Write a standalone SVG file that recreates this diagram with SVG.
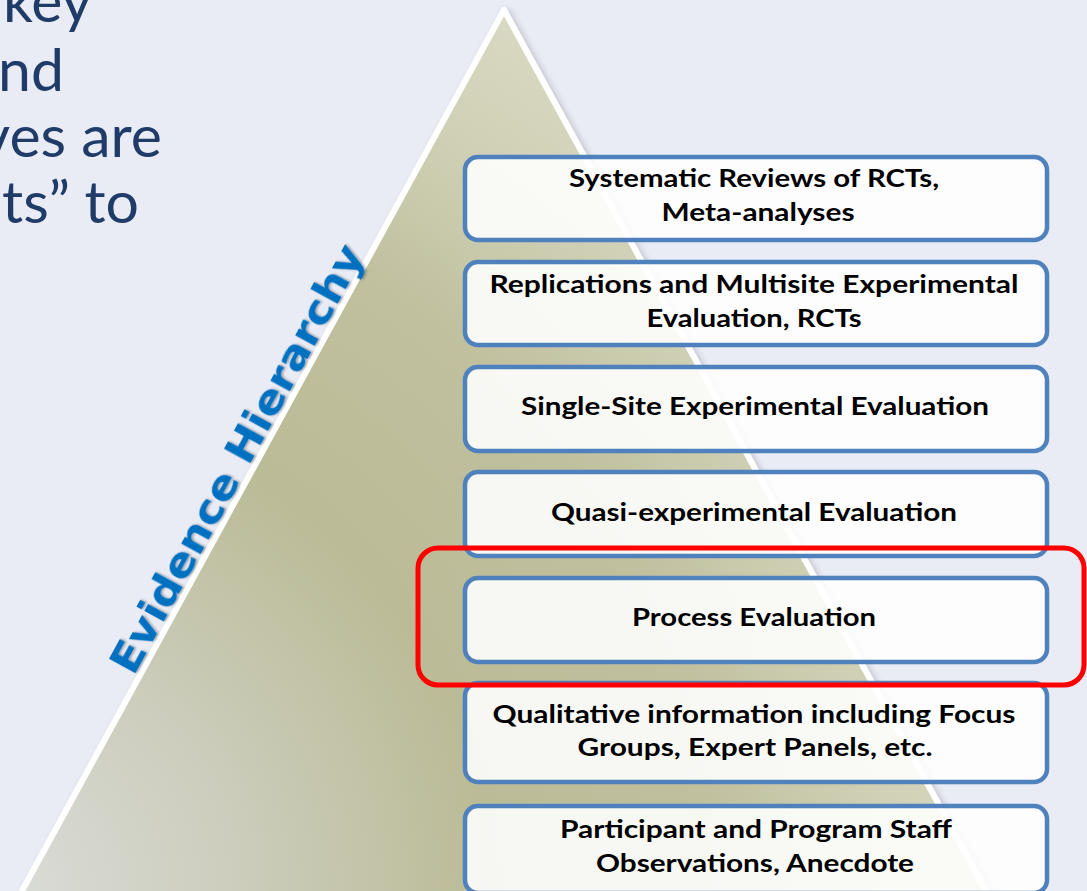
<svg xmlns="http://www.w3.org/2000/svg" width="1087" height="891" viewBox="0 0 1087 891">
  <defs>
    <radialGradient id="triGrad" gradientUnits="userSpaceOnUse" cx="0" cy="891" r="1015">
      <stop offset="0" stop-color="#DADCD8"/>
      <stop offset="0.22" stop-color="#CDCEBE"/>
      <stop offset="0.48" stop-color="#BBBB97"/>
      <stop offset="0.7" stop-color="#C0C09F"/>
      <stop offset="0.88" stop-color="#D1D1B7"/>
      <stop offset="1" stop-color="#D9D9C3"/>
    </radialGradient>
    <filter id="triShadow" x="-10%" y="-10%" width="120%" height="120%">
      <feDropShadow dx="3" dy="2" stdDeviation="3" flood-color="#000" flood-opacity="0.18"/>
    </filter>
    <filter id="txtShadow" x="-10%" y="-10%" width="120%" height="130%">
      <feDropShadow dx="1" dy="1.5" stdDeviation="1" flood-color="#000" flood-opacity="0.35"/>
    </filter>
  </defs>
  <style>
    .bg-text { font-family: Lato, "Liberation Sans", sans-serif; font-size: 59px; fill: #1F3B68; text-anchor: end; }
    .box { fill: #FFFFFF; fill-opacity: 0.88; stroke: #4F81BD; stroke-width: 4.5; }
    .label { font-family: Lato, "Liberation Sans", sans-serif; font-weight: bold; font-size: 25px; fill: #000000; text-anchor: middle; }
    .hier { font-family: "DejaVu Sans", "Liberation Sans", sans-serif; font-weight: bold; font-size: 40px; fill: #0070C0; }
  </style>

  <rect x="0" y="0" width="1087" height="891" fill="#E9EBF5"/>

  <g id="background-text">
    <text class="bg-text" x="92" y="22">key</text>
    <text class="bg-text" x="64" y="91">nd</text>
    <text class="bg-text" x="162" y="157">ves are</text>
    <text class="bg-text" x="139" y="223">ts” to</text>
  </g>

  <g id="pyramid">
    <polygon points="504,10 17,900 991,900" fill="url(#triGrad)" stroke="#FFFFFF" stroke-width="6" stroke-linejoin="round" filter="url(#triShadow)"/>
    <text class="hier" transform="translate(133.4,676.7) rotate(-61.3)" x="0" y="0" textLength="482" lengthAdjust="spacingAndGlyphs" filter="url(#txtShadow)">Evidence Hierarchy</text>
  </g>

  <g id="connectors"/>

  <g id="level1">
    <rect class="box" x="465" y="157" width="582" height="83" rx="13"/>
    <text class="label" x="754" y="187" textLength="370" lengthAdjust="spacingAndGlyphs">Systematic Reviews of RCTs,</text>
    <text class="label" x="758" y="221" textLength="193" lengthAdjust="spacingAndGlyphs">Meta-analyses</text>
  </g>
  <g id="level2">
    <rect class="box" x="465" y="262" width="582" height="83" rx="13"/>
    <text class="label" x="754" y="293" textLength="529" lengthAdjust="spacingAndGlyphs">Replications and Multisite Experimental</text>
    <text class="label" x="754" y="327" textLength="215" lengthAdjust="spacingAndGlyphs">Evaluation, RCTs</text>
  </g>
  <g id="level3">
    <rect class="box" x="465" y="367" width="582" height="84" rx="13"/>
    <text class="label" x="755" y="415" textLength="468" lengthAdjust="spacingAndGlyphs">Single-Site Experimental Evaluation</text>
  </g>
  <g id="level4">
    <rect class="box" x="465" y="472" width="582" height="84" rx="13"/>
    <text class="label" x="754" y="521" textLength="406" lengthAdjust="spacingAndGlyphs">Quasi-experimental Evaluation</text>
  </g>
  <g id="level5">
    <rect class="box" x="465" y="578" width="582" height="84" rx="13"/>
    <text class="label" x="754" y="626" textLength="244" lengthAdjust="spacingAndGlyphs">Process Evaluation</text>
  </g>
  <g id="level6">
    <rect class="box" x="465" y="683" width="582" height="99" rx="13"/>
    <text class="label" x="754" y="723" textLength="523" lengthAdjust="spacingAndGlyphs">Qualitative information including Focus</text>
    <text class="label" x="755" y="756" textLength="355" lengthAdjust="spacingAndGlyphs">Groups, Expert Panels, etc.</text>
  </g>
  <g id="level7">
    <rect class="box" x="465" y="806" width="582" height="87" rx="13"/>
    <text class="label" x="756" y="838" textLength="392" lengthAdjust="spacingAndGlyphs">Participant and Program Staff</text>
    <text class="label" x="755" y="872" textLength="318" lengthAdjust="spacingAndGlyphs">Observations, Anecdote</text>
  </g>

  <g id="highlight">
    <rect x="418" y="548" width="666" height="137" rx="20" fill="none" stroke="#FF0000" stroke-width="5"/>
  </g>
</svg>
